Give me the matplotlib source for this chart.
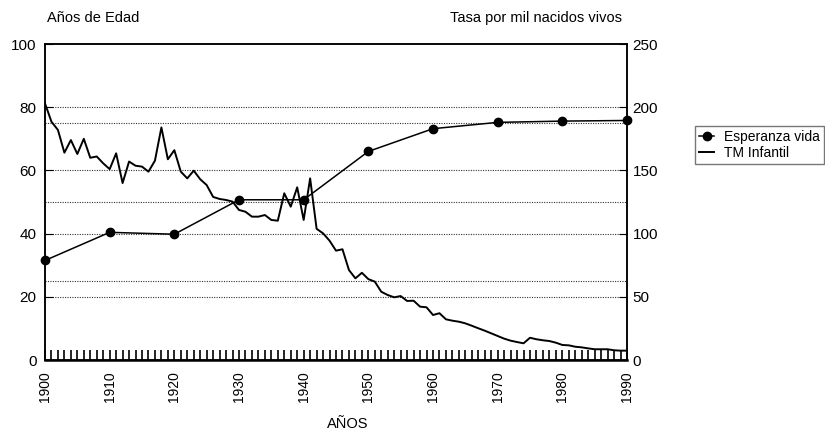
import numpy as np
import matplotlib
matplotlib.use('Agg')
import matplotlib.pyplot as plt

plt.rcParams['font.family'] = ['Liberation Sans', 'DejaVu Sans']

# Esperanza de vida (años), cada decenio
ev_years = [1900, 1910, 1920, 1930, 1940, 1950, 1960, 1970, 1980, 1990]
ev_values = [31.5, 40.4, 39.8, 50.7, 50.7, 66.0, 73.2, 75.2, 75.6, 75.8]

# Tasa de mortalidad infantil (por mil nacidos vivos), anual 1900-1990
tm_years = list(range(1900, 1991))
tm_values = [203, 188.5, 182, 164, 174, 163, 175, 160, 161, 155.6,
             151, 163.5, 140, 157, 153.7, 153, 149, 157.7, 184, 158.8,
             166, 149, 143.7, 149.8, 143, 138.4, 129, 127.4, 126.6, 125.3,
             118.7, 117.3, 113.4, 113.4, 114.7, 110.8, 110.2, 131.9, 121.3, 136.6,
             110.8, 143.7, 103.8, 100.2, 94.4, 86.5, 87.6, 71.2, 64.6, 69,
             64, 62, 54, 51.4, 49.6, 50.6, 46.7, 46.9, 42.2, 41.7,
             35.6, 37, 32.2, 31.1, 30.3, 29, 27.1, 25.1, 23.2, 21.1,
             19, 16.9, 15.3, 14.2, 13.2, 17.6, 16.4, 15.6, 15, 13.7,
             11.9, 11.6, 10.5, 10, 9.2, 8.5, 8.5, 8.5, 7.7, 7.4, 7.4]

grid_levels = [20, 25, 40, 50, 60, 75, 80]

fig = plt.figure(figsize=(8.25, 4.32), dpi=100)
ax = fig.add_axes([45 / 825, 72 / 432, 582 / 825, 316 / 432])
ax2 = ax.twinx()

for g in grid_levels:
    ax.axhline(g, color='#333333', lw=0.8, ls=(0, (1, 1.2)), zorder=1)

ax.plot(ev_years, ev_values, color='black', lw=1.1, marker='o', ms=6,
        label='Esperanza vida', zorder=3, clip_on=False)
ax2.plot(tm_years, tm_values, color='black', lw=1.4, label='TM Infantil', zorder=3)

ax.set_xlim(1900, 1990)
ax.set_ylim(0, 100)
ax2.set_ylim(0, 250)

ax.set_xticks(range(1900, 1991, 10))
ax.set_xticks(range(1900, 1991), minor=True)
ax.tick_params(axis='x', which='both', direction='in', length=7, width=1.2,
               labelsize=10, labelrotation=90, pad=8)
ax.set_yticks([0, 20, 40, 60, 80, 100])
ax.tick_params(axis='y', direction='in', length=6, labelsize=11, pad=6)
ax2.set_yticks([0, 50, 100, 150, 200, 250])
ax2.tick_params(axis='y', direction='in', length=6, labelsize=11, pad=4)

for sp in list(ax.spines.values()) + list(ax2.spines.values()):
    sp.set_linewidth(1.1)
ax.spines['bottom'].set_linewidth(1.8)

ax.set_xlabel('AÑOS', fontsize=10.5, va='center')
ax.xaxis.set_label_coords((348 - 45) / 582, (360 - 424) / 316)
fig.text(47 / 825, 1 - 18 / 432, 'Años de Edad', fontsize=10.5, va='center', ha='left')
fig.text(622 / 825, 1 - 18 / 432, 'Tasa por mil nacidos vivos', fontsize=10.5,
         va='center', ha='right')

h1, l1 = ax.get_legend_handles_labels()
h2, l2 = ax2.get_legend_handles_labels()
leg = fig.legend(h1 + h2, l1 + l2, loc='lower left',
                 bbox_to_anchor=(695 / 825, 1 - 164 / 432), fontsize=10,
                 frameon=True, fancybox=False, handlelength=1.1,
                 handletextpad=0.7, borderpad=0.3, labelspacing=0.12,
                 borderaxespad=0)
leg.get_frame().set_edgecolor('#555555')
leg.get_frame().set_linewidth(1.0)

fig.savefig('out.png', dpi=100)
